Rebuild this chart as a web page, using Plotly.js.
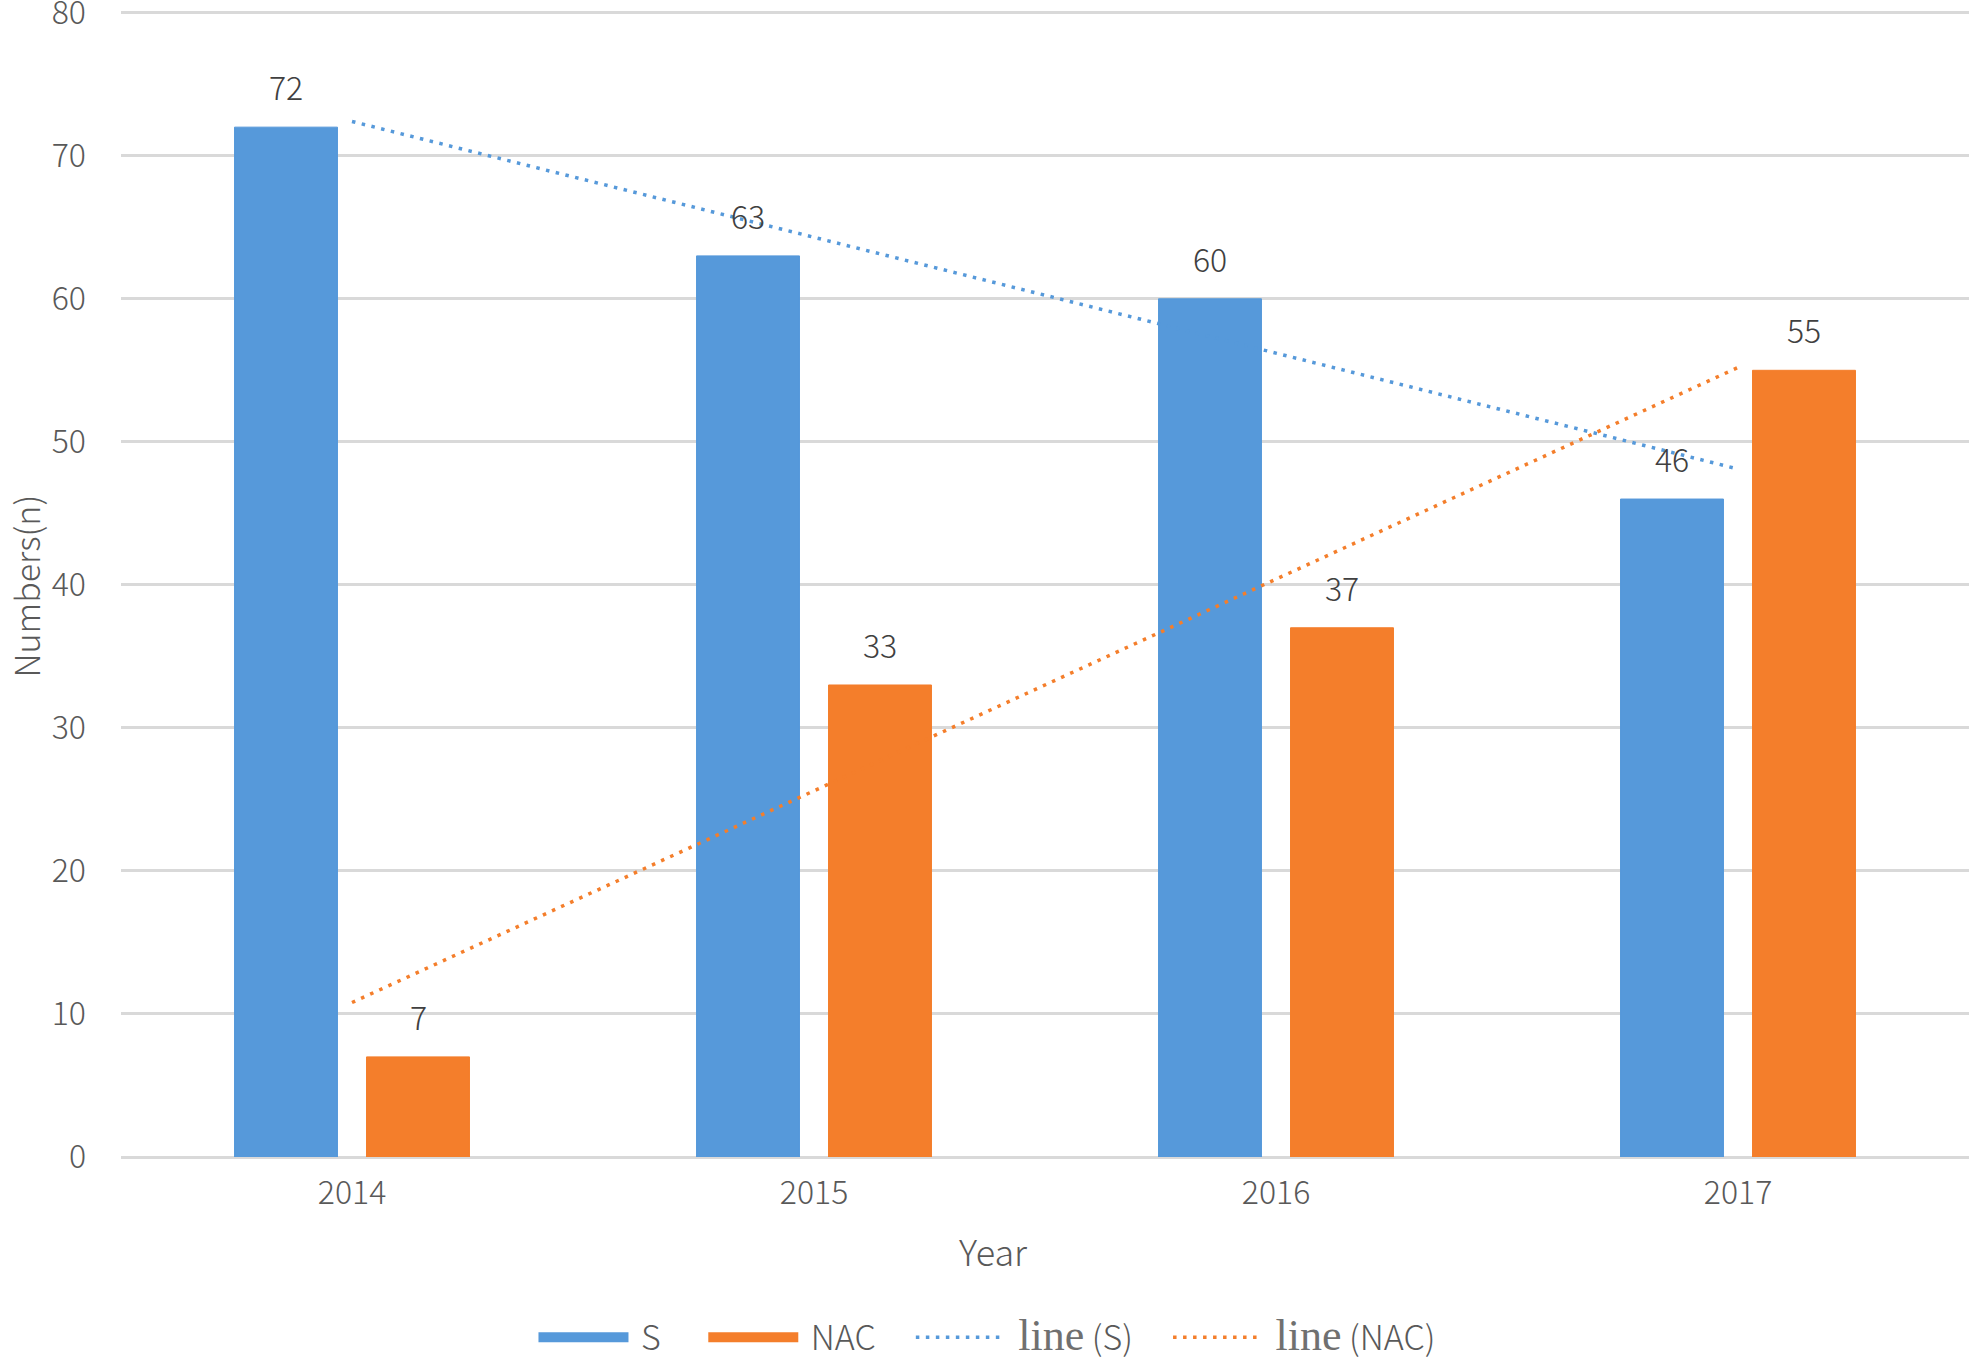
<!DOCTYPE html>
<html>
<head>
<meta charset="utf-8">
<script src="https://cdn.plot.ly/plotly-3.0.1.min.js"></script>
<style>
  html, body { margin: 0; padding: 0; background: #fff; }
  #chart { width: 1969px; height: 1361px; }
</style>
</head>
<body>
<div id="chart"></div>
<script>
(() => {
    "use strict";

    // values
    const years = ["2014", "2015", "2016", "2017"];
    const sValues = [72, 63, 60, 46];
    const nacValues = [7, 33, 37, 55];

    // trend line end points (first and last year)
    const trendYears = ["2014", "2017"];
    const sTrend = [72.4, 48.1];
    const nacTrend = [10.8, 55.2];

    const blue = "#5699DA";
    const orange = "#F47E2B";
    const sans = "'Noto Sans CJK SC', 'Noto Sans', sans-serif";
    const serif = "'Liberation Serif', 'DejaVu Serif', serif";
    const nb = (n) => "\u00a0".repeat(n);

    const barTrace = (name, y, color) => ({
        type: "bar",
        name,
        x: years,
        y,
        marker: { color, line: { color, width: 1 } },
        showlegend: false,
        hoverinfo: "x+y+name",
    });

    const trendTrace = (name, y, color) => ({
        type: "scatter",
        mode: "lines",
        name,
        x: trendYears,
        y,
        line: { color, width: 3.5, dash: "3.5px,6.5px" },
        showlegend: false,
        hoverinfo: "skip",
    });

    // legend-only entries, so the swatches look like the original
    const legendBar = (label, color) => ({
        type: "scatter",
        mode: "lines",
        name: label,
        x: [null],
        y: [null],
        line: { color, width: 15 },
        hoverinfo: "skip",
    });
    const legendLine = (label, color) => ({
        type: "scatter",
        mode: "lines",
        name: label,
        x: [null],
        y: [null],
        line: { color, width: 3.5, dash: "3.5px,6.5px" },
        hoverinfo: "skip",
    });

    const lineLabel = (s) =>
        `<span style="font-family:${serif};font-size:44px;color:#707070">line</span> ${s}`;

    const data = [
        barTrace("S", sValues, blue),
        barTrace("NAC", nacValues, orange),
        trendTrace("line (S)", sTrend, blue),
        trendTrace("line (NAC)", nacTrend, orange),
        legendBar(nb(1) + "S" + nb(5), blue),
        legendBar(nb(1) + "NAC" + nb(4), orange),
        legendLine(nb(1) + lineLabel("(S)") + nb(4), blue),
        legendLine(nb(1) + lineLabel("(NAC)"), orange),
    ];

    // value labels above the bars (x given as category index)
    const valueLabels = (values, shift) => values.map((v, i) => ({
        x: i,
        y: v,
        xref: "x",
        yref: "y",
        text: String(v),
        showarrow: false,
        xshift: shift,
        yshift: 16,
        yanchor: "bottom",
        font: { family: sans, size: 32, color: "#404040", weight: 300 },
    }));

    const layout = {
        width: 1969,
        height: 1361,
        margin: { l: 121, r: 0, t: 7, b: 204, autoexpand: false },
        paper_bgcolor: "#fff",
        plot_bgcolor: "#fff",
        font: { family: sans, color: "#595959", size: 32, weight: 300 },
        barmode: "group",
        bargap: 0.4286,
        bargroupgap: 0.22,
        xaxis: {
            type: "category",
            categoryorder: "array",
            categoryarray: years,
            range: [-0.5, years.length - 0.5],
            showgrid: false,
            showline: false,
            zeroline: false,
            ticks: "",
            ticklabelstandoff: 14,
            tickfont: { family: sans, size: 32, color: "#595959", weight: 300 },
            automargin: false,
            fixedrange: true,
        },
        yaxis: {
            range: [0, 80.4],
            tickvals: [0, 10, 20, 30, 40, 50, 60, 70, 80],
            showgrid: true,
            gridcolor: "#D9D9D9",
            gridwidth: 3,
            zeroline: true,
            zerolinecolor: "#D9D9D9",
            zerolinewidth: 3,
            ticks: "",
            ticklabelstandoff: 34,
            ticklabeloverflow: "allow",
            tickfont: { family: sans, size: 32, color: "#595959", weight: 300 },
            automargin: false,
            fixedrange: true,
        },
        annotations: [
            ...valueLabels(sValues, -66),
            ...valueLabels(nacValues, 66),
            {
                // axis titles, placed as in the original
                text: "Year",
                xref: "paper",
                yref: "paper",
                x: 0.4724,
                y: -0.081,
                xanchor: "center",
                yanchor: "middle",
                showarrow: false,
                font: { family: sans, size: 36, color: "#595959", weight: 300 },
            },
            {
                text: "Numbers(n)",
                xref: "paper",
                yref: "paper",
                x: -0.0522,
                y: 0.4965,
                xanchor: "center",
                yanchor: "middle",
                textangle: -90,
                showarrow: false,
                borderpad: 0,
                font: { family: sans, size: 34, color: "#595959", weight: 300 },
            },
        ],
        legend: {
            orientation: "h",
            x: 0.4686,
            xanchor: "center",
            y: -0.157,
            yanchor: "middle",
            itemwidth: 90,
            traceorder: "normal",
            font: { family: sans, size: 34, color: "#595959", weight: 300 },
            bgcolor: "rgba(0,0,0,0)",
        },
        showlegend: true,
    };

    Plotly.newPlot("chart", data, layout, { responsive: false, displayModeBar: false, staticPlot: true });
})();
</script>
</body>
</html>
